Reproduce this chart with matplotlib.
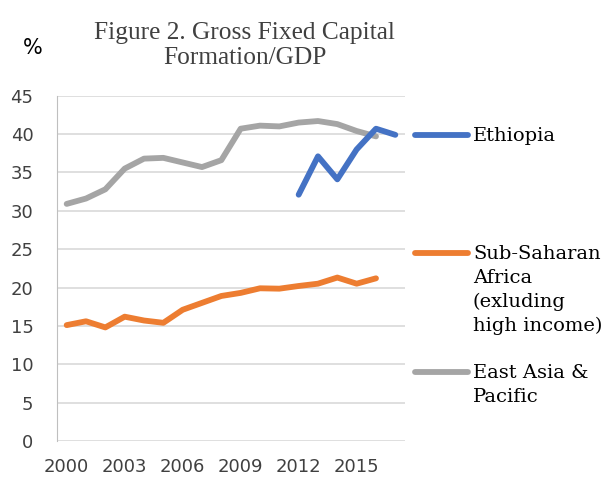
import matplotlib.pyplot as plt
from matplotlib.lines import Line2D

years = list(range(2000, 2018))
tick_years = [2000, 2003, 2006, 2009, 2012, 2015]

# Gross fixed capital formation, % of GDP
ethiopia_years = [2012, 2013, 2014, 2015, 2016, 2017]
ethiopia = [32.1, 37.1, 34.1, 38.0, 40.7, 39.9]

ssa_years = years[:17]
ssa = [15.1, 15.6, 14.8, 16.2, 15.7, 15.4, 17.1, 18.0, 18.9, 19.3,
       19.9, 19.85, 20.2, 20.5, 21.3, 20.5, 21.2]

eap_years = years[:17]
eap = [30.9, 31.6, 32.8, 35.5, 36.8, 36.9, 36.3, 35.7, 36.6, 40.7,
       41.1, 41.0, 41.5, 41.7, 41.3, 40.4, 39.7]

labels = ['Ethiopia',
          'Sub-Saharan\nAfrica\n(exluding\nhigh income)',
          'East Asia &\nPacific']
colors = ['#4472C4', '#ED7D31', '#A5A5A5']

W, H = 604, 480
fig = plt.figure(figsize=(W / 100, H / 100), dpi=100)
ax = fig.add_axes([0.0944, 0.0813, 0.5761, 0.7193])

lw = 4.2
style = dict(lw=lw, solid_capstyle='round', solid_joinstyle='round')
l_eap, = ax.plot(eap_years, eap, color=colors[2], **style)
l_ssa, = ax.plot(ssa_years, ssa, color=colors[1], **style)
l_eth, = ax.plot(ethiopia_years, ethiopia, color=colors[0], **style)

ax.set_xlim(1999.5, 2017.5)
ax.set_ylim(0, 45)
ax.set_yticks(range(0, 46, 5))
ax.set_xticks(tick_years)
ax.grid(axis='y', color='#D9D9D9', lw=1.2)
ax.set_axisbelow(True)
for s in ['top', 'right', 'bottom']:
    ax.spines[s].set_visible(False)
ax.spines['left'].set_color('#BFBFBF')
ax.tick_params(axis='both', length=0, labelsize=13, labelcolor='#404040')
ax.tick_params(axis='y', pad=17)
ax.tick_params(axis='x', pad=12)

# legend: key line beside the first line of each label
key_y = [135, 253, 372]
for line, lab, yp in zip([l_eth, l_ssa, l_eap], labels, key_y):
    yf = 1 - yp / H
    fig.add_artist(Line2D([415 / W, 468 / W], [yf, yf], color=line.get_color(),
                          transform=fig.transFigure, **style))
    fig.text(473 / W, 1 - (yp - 8) / H, lab, ha='left', va='top',
             family='DejaVu Serif', fontsize=14, color='black', linespacing=1.42)

fig.text(0.405, 0.905, 'Figure 2. Gross Fixed Capital\nFormation/GDP', ha='center', va='center',
         family='Liberation Serif', fontsize=18.3, color='#404040', linespacing=1.2)
fig.text(0.055, 0.9, '%', ha='center', va='center', fontsize=15, color='black')

fig.savefig('out.png', dpi=100)
